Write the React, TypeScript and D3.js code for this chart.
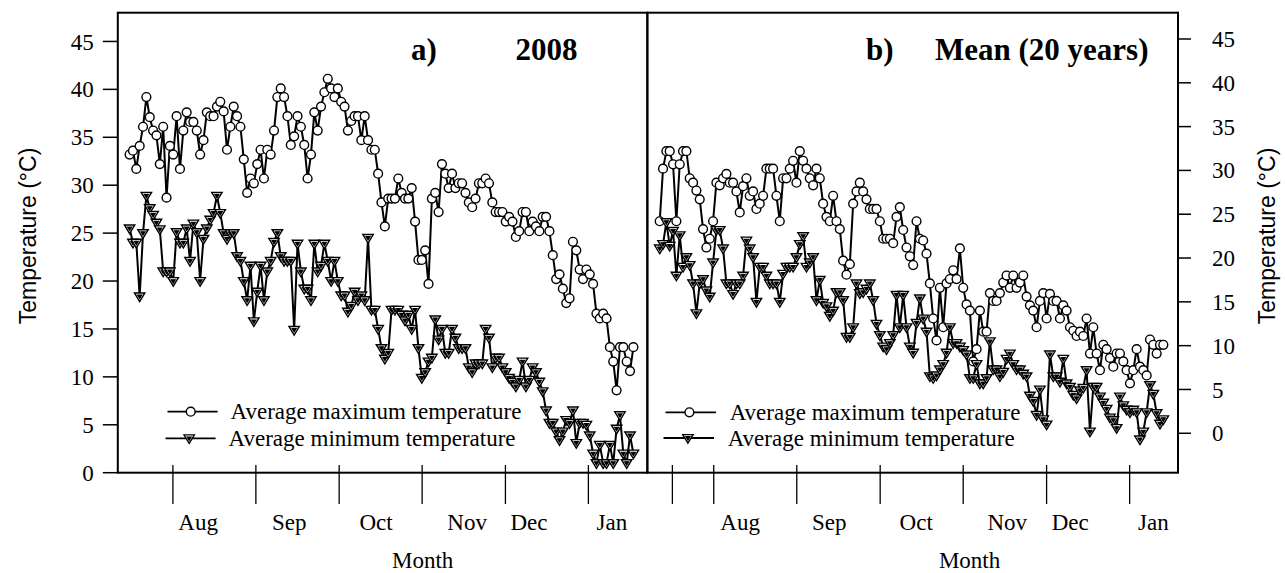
import React from "react";
import * as d3 from "d3";

// ---------- DATA ----------
const maxTemp2008 = [33.2,33.6,31.7,34.1,36.1,39.2,37.1,35.7,35.2,32.2,36.1,28.7,34.1,33.2,37.2,31.7,35.7,37.6,36.6,36.6,35.7,33.2,34.7,37.6,37.2,37.2,38.2,38.7,37.7,33.7,36.1,38.2,37.2,36.1,32.7,29.2,30.7,30.2,32.2,33.7,30.7,33.7,33.2,35.7,39.2,40.1,39.2,37.2,34.2,35.1,37.2,36.1,34.2,30.7,33.2,37.6,35.7,38.2,39.7,41.1,40.1,39.2,40.1,38.7,38.2,35.7,36.7,37.2,37.2,34.7,37.2,34.7,33.7,33.7,31.2,28.2,25.7,28.6,28.6,28.6,30.7,29.2,28.6,28.6,29.7,26.2,22.2,22.2,23.2,19.7,28.6,29.2,27.2,32.2,31.2,29.7,31.2,29.7,30.2,30.2,29.2,28.2,27.7,28.6,30.2,30.2,30.7,30.2,28.2,27.2,27.2,27.2,26.2,26.7,26.2,24.6,25.2,27.2,27.2,25.2,26.2,25.7,25.2,26.7,26.7,25.2,22.7,20.2,20.7,19.2,17.7,18.2,24.1,23.2,21.2,20.2,21.2,20.7,19.7,16.6,16.1,16.6,16.1,13.1,11.6,8.6,13.1,13.1,11.6,10.6,13.1];
const minTemp2008 = [25.5,24.0,24.0,18.4,25.0,28.9,27.6,26.9,26.1,25.4,21.0,21.0,21.0,20.0,25.1,24.0,24.0,25.5,22.1,26.0,25.1,20.0,24.4,25.5,26.4,27.1,28.9,27.1,25.0,24.4,25.0,25.0,22.6,22.1,20.0,18.0,21.6,15.8,18.9,21.6,18.0,21.0,22.1,24.1,25.0,22.6,22.1,22.1,22.1,14.9,23.9,21.0,19.2,19.2,18.0,23.9,21.0,21.6,23.9,22.1,20.0,22.1,20.0,18.5,18.5,16.8,17.4,18.9,18.0,18.5,18.0,24.5,17.0,17.0,15.0,13.0,11.9,12.5,17.0,17.0,17.0,16.5,15.9,16.5,15.0,17.0,13.0,9.9,10.5,11.6,12.0,16.0,13.9,15.0,12.5,12.5,15.0,14.1,13.0,13.0,13.0,11.0,10.5,11.4,11.4,11.4,15.0,14.1,11.0,12.0,12.0,11.0,10.5,9.9,9.5,9.0,9.7,11.6,9.0,9.7,11.0,10.5,9.5,8.5,6.5,5.2,5.2,4.3,3.4,4.3,5.5,5.2,6.5,3.1,5.2,5.2,5.0,3.9,2.0,1.0,2.9,1.0,1.0,2.9,1.0,4.6,6.0,2.0,1.0,3.9,2.0];
const maxTempMean = [24.2,30.2,32.2,32.2,30.7,24.2,30.7,32.2,32.2,29.1,28.6,27.7,26.7,23.3,21.2,22.2,24.2,28.6,28.3,29.1,29.6,28.6,28.6,27.6,25.2,28.2,29.1,27.1,27.6,25.6,26.2,27.1,30.2,30.2,30.2,27.1,24.2,29.1,29.1,30.2,31.1,28.6,32.2,31.1,30.2,29.1,28.3,30.2,29.1,26.2,24.7,24.2,27.1,24.2,23.3,19.7,18.1,19.3,26.2,27.6,28.6,27.6,26.7,25.6,25.6,25.6,24.2,22.2,22.2,22.2,21.7,24.7,25.8,23.2,21.2,20.2,19.2,24.2,22.2,22.0,20.5,17.1,13.1,10.6,16.6,12.1,17.1,17.6,18.6,17.6,21.1,16.6,14.7,14.0,8.2,9.6,14.0,11.6,11.6,16.0,15.1,15.1,16.0,17.2,18.0,16.6,18.0,16.6,17.2,18.0,15.6,14.6,14.0,12.1,15.1,16.0,13.1,15.9,15.1,15.1,13.1,14.6,14.0,12.1,11.7,11.1,11.6,11.1,13.1,9.1,12.1,9.1,7.2,10.1,9.6,8.6,7.6,9.1,9.1,8.2,7.2,5.7,7.2,9.6,7.6,7.2,6.6,10.7,10.1,9.1,10.1,10.1];
const minTempMean = [21.1,21.6,24.1,21.4,23.1,18.0,22.6,19.0,20.1,19.2,17.1,13.7,17.1,17.6,16.3,15.6,19.5,23.2,23.2,21.1,17.1,17.1,15.9,17.1,17.1,18.0,22.0,21.1,20.1,15.0,19.0,19.0,18.0,17.1,17.1,17.1,15.0,18.2,19.0,19.0,19.0,20.1,21.6,22.5,19.0,19.5,20.1,15.2,17.5,14.9,14.5,13.4,14.0,16.1,16.1,15.2,11.0,11.0,12.1,17.1,16.0,16.1,16.5,17.1,15.2,12.5,11.2,9.9,9.6,10.3,11.2,15.8,12.1,15.8,12.1,9.9,9.2,12.6,15.4,13.1,11.6,6.5,6.3,6.6,7.3,7.9,9.2,12.1,10.3,10.3,9.9,9.5,9.0,6.3,6.3,7.9,5.7,5.7,6.3,10.5,7.3,7.3,6.5,7.0,8.5,9.1,7.9,7.3,7.3,6.8,6.5,4.3,3.7,2.1,5.0,1.6,1.0,9.0,6.5,6.5,5.9,8.5,5.7,5.3,4.4,4.0,4.9,5.2,7.2,0.2,5.3,5.3,4.2,3.5,2.8,1.8,1.5,0.6,4.2,3.2,2.7,2.4,2.7,2.4,-0.7,0.2,2.4,5.5,4.5,2.3,1.1,1.6];

const yTicks = [0, 5, 10, 15, 20, 25, 30, 35, 40, 45];
const monthLabels = ["Aug", "Sep", "Oct", "Nov", "Dec", "Jan"];
// tick and label positions in day-index units
const leftTickIdx = [13.9, 38.6, 63.4, 88.1, 112.9, 137.6];
const leftLabelIdx = [21.4, 48.5, 74.4, 101.5, 119.9, 144.6];
const rightTickIdx = [4.8, 17.2, 42.1, 67.1, 92.0, 117.0, 141.9];
const rightLabelIdx = [25.1, 51.8, 77.9, 105.2, 124.1, 149.0];
const legendLabels = ["Average maximum temperature", "Average minimum temperature"];

const W = 1285, H = 573;
const SERIF = "'Liberation Serif', 'Times New Roman', serif";
const SANS = "'Liberation Sans', Arial, sans-serif";

const top = 12.7, bottom = 472.7;
const lx0 = 117.8, lx1 = 647.3, rx0 = 647.4, rx1 = 1178;

function Circle({ x, y }: { x: number; y: number }) {
  return <circle cx={x} cy={y} r={4.4} fill="white" stroke="black" strokeWidth={1.4} />;
}
function Tri({ x, y }: { x: number; y: number }) {
  const s = 5.2;
  const outer = `M${x - s},${y - s * 0.65} L${x + s},${y - s * 0.65} L${x},${y + s} Z`;
  const k = 0.38;
  const inner = `M${x - s * k},${y - s * 0.65 * k} L${x + s * k},${y - s * 0.65 * k} L${x},${y + s * k} Z`;
  return (
    <g>
      <path d={outer} fill="white" stroke="black" strokeWidth={1.4} />
      <path d={inner} fill="black" stroke="black" strokeWidth={1.2} />
    </g>
  );
}

function Panel({ maxS, minS, x, y }: { maxS: number[]; minS: number[]; x: d3.ScaleLinear<number, number>; y: d3.ScaleLinear<number, number> }) {
  const line = d3.line<number>().x((_, i) => x(i + 1)).y((d) => y(d));
  return (
    <g>
      <path d={line(maxS) || ""} fill="none" stroke="black" strokeWidth={2} />
      {maxS.map((d, i) => <Circle key={"a" + i} x={x(i + 1)} y={y(d)} />)}
      <path d={line(minS) || ""} fill="none" stroke="black" strokeWidth={2} />
      {minS.map((d, i) => <Tri key={"b" + i} x={x(i + 1)} y={y(d)} />)}
    </g>
  );
}

function Legend({ x0, x1, xm, xt, y1, y2 }: { x0: number; x1: number; xm: number; xt: number; y1: number; y2: number }) {
  return (
    <g fontFamily={SERIF} fontSize={23}>
      <line x1={x0} x2={x1} y1={y1} y2={y1} stroke="black" strokeWidth={1.8} />
      <Circle x={xm} y={y1} />
      <text x={xt} y={y1} dy="0.33em">{legendLabels[0]}</text>
      <line x1={x0 - 2} x2={x1 - 2} y1={y2} y2={y2} stroke="black" strokeWidth={1.8} />
      <Tri x={xm - 1.5} y={y2} />
      <text x={xt - 2} y={y2} dy="0.33em">{legendLabels[1]}</text>
    </g>
  );
}

export default function App() {
  const xL = d3.scaleLinear().domain([-2.51, 155.14]).range([lx0, lx1]);
  const xR = d3.scaleLinear().domain([-2.69, 156.4]).range([rx0, rx1]);
  const yL = d3.scaleLinear().domain([0, 48]).range([bottom, top]);
  const yR = d3.scaleLinear().domain([-4.5, 48]).range([bottom, top]);

  return (
    <svg width={W} height={H} style={{ position: "absolute", left: 0, top: 0, background: "white" }}>
      <rect x={0} y={0} width={W} height={H} fill="white" />
      <Panel maxS={maxTemp2008} minS={minTemp2008} x={xL} y={yL} />
      <Panel maxS={maxTempMean} minS={minTempMean} x={xR} y={yR} />

      {/* frames */}
      <rect x={lx0} y={top} width={lx1 - lx0} height={bottom - top} fill="none" stroke="black" strokeWidth={2} />
      <rect x={rx0} y={top} width={rx1 - rx0} height={bottom - top} fill="none" stroke="black" strokeWidth={2} />

      {/* axes */}
      <g fontFamily={SERIF} fontSize={23}>
        {yTicks.map((t) => (
          <g key={"yl" + t}>
            <line x1={lx0 - 15} x2={lx0} y1={yL(t)} y2={yL(t)} stroke="black" strokeWidth={1.5} />
            <text x={lx0 - 24} y={yL(t)} dy="0.35em" textAnchor="end">{t}</text>
          </g>
        ))}
        {yTicks.map((t) => (
          <g key={"yr" + t}>
            <line x1={rx1} x2={rx1 + 13} y1={yR(t)} y2={yR(t)} stroke="black" strokeWidth={1.5} />
            <text x={rx1 + 34} y={yR(t)} dy="0.35em" textAnchor="start">{t}</text>
          </g>
        ))}
        {leftTickIdx.map((t, i) => (
          <line key={"tl" + i} x1={xL(t)} x2={xL(t)} y1={465} y2={504} stroke="black" strokeWidth={1.3} />
        ))}
        {rightTickIdx.map((t, i) => (
          <line key={"tr" + i} x1={xR(t)} x2={xR(t)} y1={465} y2={504} stroke="black" strokeWidth={1.3} />
        ))}
        {leftLabelIdx.map((t, i) => (
          <text key={"ml" + i} x={xL(t)} y={530} textAnchor="middle">{monthLabels[i]}</text>
        ))}
        {rightLabelIdx.map((t, i) => (
          <text key={"mr" + i} x={xR(t)} y={530} textAnchor="middle">{monthLabels[i]}</text>
        ))}
        <text x={422.7} y={568} textAnchor="middle">Month</text>
        <text x={969.6} y={568} textAnchor="middle">Month</text>
      </g>

      {/* axis titles */}
      <text transform="translate(36,236) rotate(-90)" textAnchor="middle" fontFamily={SANS} fontSize={23}>Temperature (°C)</text>
      <text transform="translate(1275,236) rotate(-90)" textAnchor="middle" fontFamily={SANS} fontSize={23}>Temperature (°C)</text>

      {/* panel titles */}
      <g fontFamily={SERIF} fontSize={31} fontWeight="bold">
        <text x={411} y={60}>a)</text>
        <text x={515.6} y={60}>2008</text>
        <text x={866} y={60}>b)</text>
        <text x={935} y={60}>Mean (20 years)</text>
      </g>

      <Legend x0={167.5} x1={217.6} xm={190.7} xt={230.6} y1={411.7} y2={438.3} />
      <Legend x0={665.5} x1={716} xm={689.4} xt={729.7} y1={412.3} y2={438} />
    </svg>
  );
}
